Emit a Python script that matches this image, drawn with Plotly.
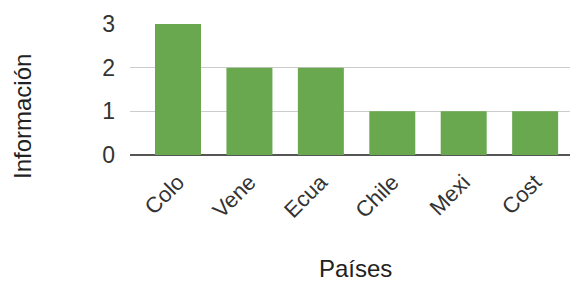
import plotly.graph_objects as go

categories = ["Colo", "Vene", "Ecua", "Chile", "Mexi", "Cost"]
values = [3, 2, 2, 1, 1, 1]
y_ticks = [0, 1, 2, 3]

FONT = "Liberation Sans, Arial, sans-serif"

# page body has an 8px default margin, so the figure is sized 8px smaller
W, H = 570, 273
L, T = 122, 16

fig = go.Figure(go.Bar(x=categories, y=values, marker=dict(color="#6aa84f", line=dict(width=0))))

fig.update_layout(
    width=W, height=H,
    margin=dict(l=L, r=0, t=T, b=H - T - 131, autoexpand=False),
    plot_bgcolor="white", paper_bgcolor="white",
    bargap=0.356,
    showlegend=False,
    font=dict(family=FONT, color="#333", size=22),
)
fig.update_xaxes(
    range=[-0.672, 5.60], tickangle=-45, showgrid=False, automargin=False,
    tickfont=dict(size=22, color="#333"), ticks="", ticklabelstandoff=9,
    showline=False, zeroline=False,
)
fig.update_yaxes(
    range=[0, 3], tickvals=y_ticks, showgrid=True, gridcolor="#cccccc", gridwidth=1,
    automargin=False,
    zeroline=True, zerolinecolor="#555555", zerolinewidth=2,
    tickfont=dict(size=23, color="#333"), ticklabelstandoff=14,
)
fig.add_annotation(text="Información", xref="paper", yref="paper", x=(14 - L) / 448, y=38 / 131,
                   textangle=-90, showarrow=False, font=dict(size=24, color="#222"), xanchor="center", yanchor="middle")
fig.add_annotation(text="Países", xref="paper", yref="paper", x=(347 - L) / 448, y=-113 / 131,
                   showarrow=False, font=dict(size=24, color="#222"), xanchor="center", yanchor="middle")

fig.write_html("out.html")
